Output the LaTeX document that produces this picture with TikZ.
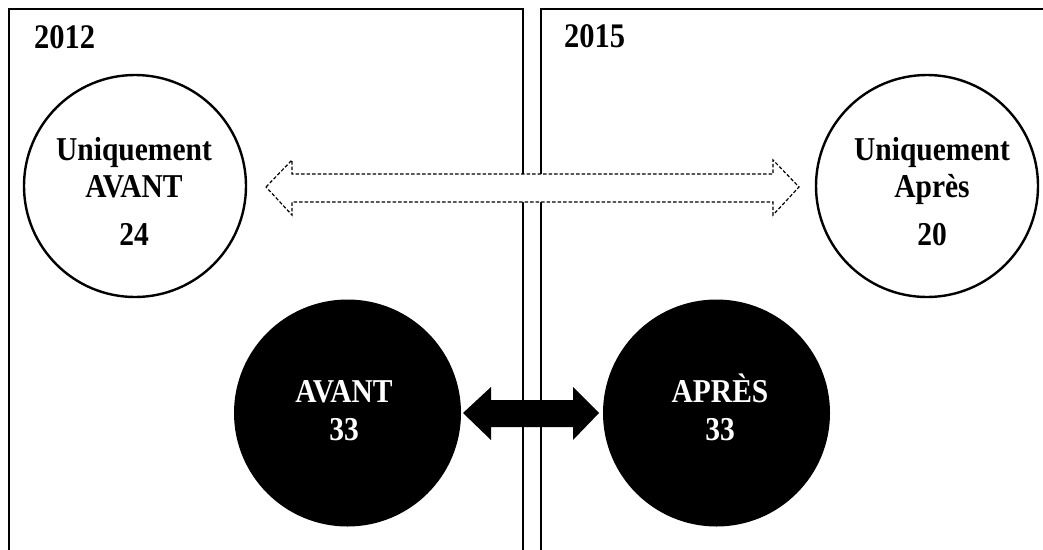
\documentclass[tikz,border=0pt]{standalone}
\usepackage{fontspec}
\usepackage{graphicx}
\setmainfont{Liberation Serif}
\newcommand\talltext[1]{\scalebox{1}[1.13]{#1}}
\begin{document}
\begin{tikzpicture}[x=1pt,y=-1pt,
  panel/.style={draw=black,line width=1.6pt},
  whitedisc/.style={circle,draw=black,line width=2.4pt,fill=white,minimum size=222pt,inner sep=0pt},
  darkdisc/.style={circle,fill=black,draw=none,minimum size=227pt,inner sep=0pt},
  lbl/.style={font=\fontsize{29.5}{30}\selectfont\bfseries,anchor=base,inner sep=0pt},
  wlbl/.style={lbl,text=white},
  yearlbl/.style={font=\fontsize{30.5}{31}\selectfont\bfseries,anchor=base west,inner sep=0pt},
  dasharrow/.style={draw=black,line width=1.2pt,dash pattern=on 3.5pt off 2pt,fill=white},
  blockarrow/.style={fill=black,draw=none}]
\useasboundingbox (0,0) rectangle (1043,549);
\clip (0,0) rectangle (1043,549);
\fill[white] (0,0) rectangle (1043,549);
% panels
\draw[panel] (9,560) -- (9,9) -- (523,9) -- (523,560);
\draw[panel] (541,560) -- (541,9) -- (1060,9);
\node[yearlbl] (y1) at (34,48) {\talltext{2012}};
\node[yearlbl] (y2) at (564,47) {\talltext{2015}};
% white circles
\node[whitedisc] (ua) at (135,186) {};
\node[whitedisc] (up) at (927,186) {};
\node[lbl] (ua1) at (134,160) {\talltext{Uniquement}};
\node[lbl] (ua2) at (134,197) {\talltext{AVANT}};
\node[lbl] (ua3) at (134,245) {\talltext{24}};
\node[lbl] (up1) at (932,160) {\talltext{Uniquement}};
\node[lbl] (up2) at (932,197) {\talltext{Après}};
\node[lbl] (up3) at (932,245) {\talltext{20}};
% dashed double arrow
\draw[dasharrow] (266,187) -- (292,160) -- (292,174) -- (773,174) -- (773,160) -- (799,187)
  -- (773,215) -- (773,202) -- (292,202) -- (292,215) -- cycle;
% black circles
\node[darkdisc] (av) at (347.5,413) {};
\node[darkdisc] (ap) at (716.5,413) {};
\node[wlbl] (av1) at (344,402) {\talltext{AVANT}};
\node[wlbl] (av2) at (344,440) {\talltext{33}};
\node[wlbl] (ap1) at (720,402) {\talltext{APRÈS}};
\node[wlbl] (ap2) at (720,440) {\talltext{33}};
% black double arrow
\fill[blockarrow] (463,413) -- (491,387) -- (491,400) -- (573,400) -- (573,387) -- (599,413)
  -- (573,440) -- (573,427) -- (491,427) -- (491,440) -- cycle;
\end{tikzpicture}
\end{document}
